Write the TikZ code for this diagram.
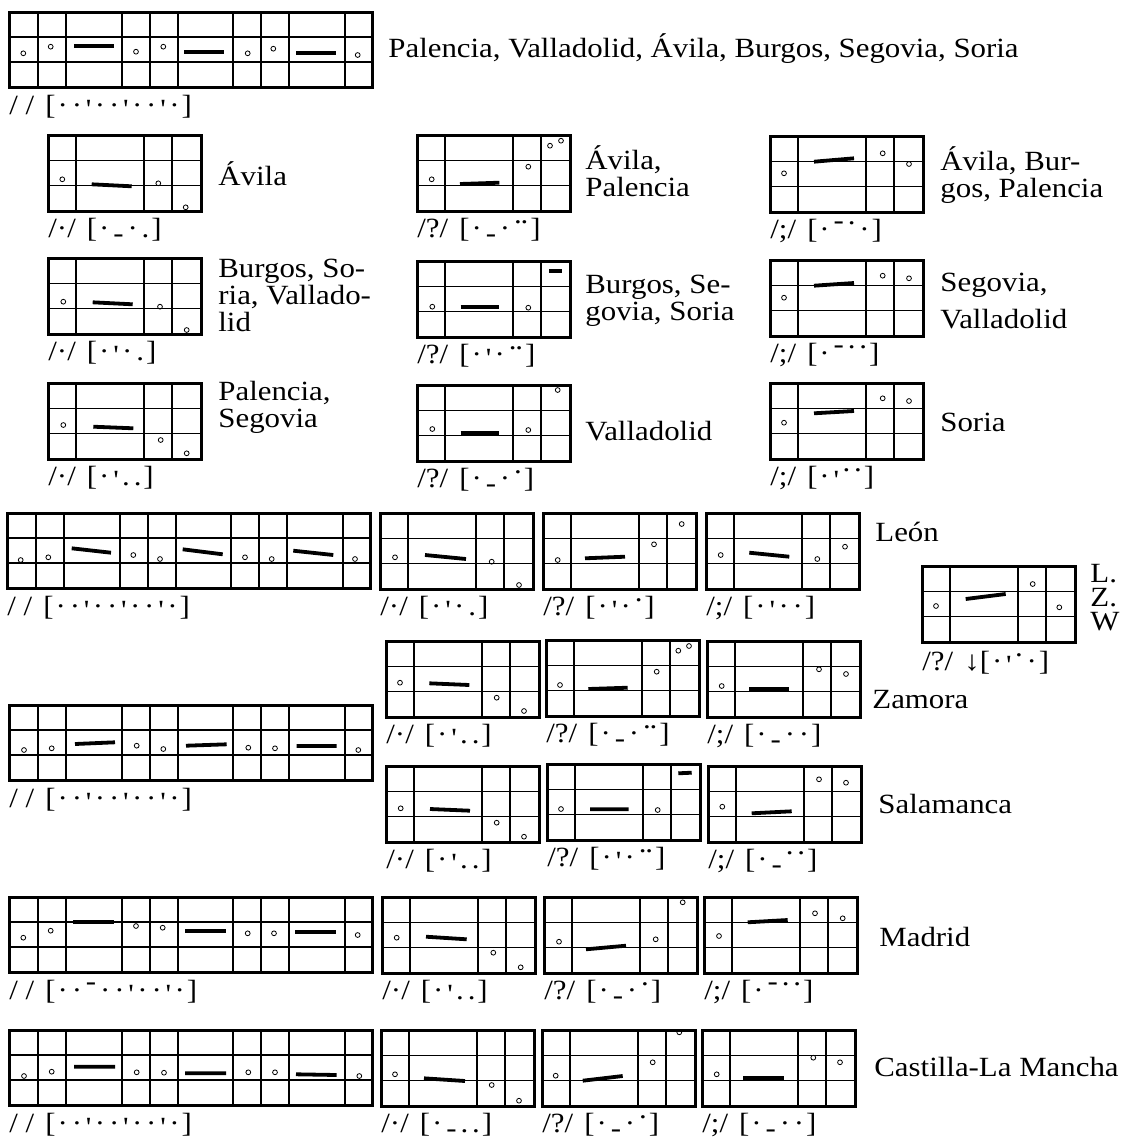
\documentclass[tikz,border=0pt]{standalone}
\usepackage{fontspec}
\setmainfont{Liberation Serif}[FakeStretch=1.11]

\tikzset{
    frame/.style={line width=1.5pt},
    thickrule/.style={line width=1.3pt},
    thinrule/.style={line width=.7pt},
    tone/.style={line width=.4pt},
    bar/.style={line width=1.9pt},
    lab/.style={anchor=base west, inner sep=0pt, align=left},
}

% pitch marks inside the brackets
\newcommand\tMid{\kern.07em\textperiodcentered\kern.07em}
\newcommand\tLow{\kern.07em.\kern.07em}
\newcommand\tHigh{\kern.07em\raisebox{.48em}{.}\kern.07em}
\newcommand\tHH{\kern.07em\raisebox{.48em}{.\kern-.04em.}\kern.07em}
\newcommand\tLowBar{\kern.07em\raisebox{-.2em}{-}\kern.07em}
\newcommand\tHighBar{\kern.07em\raisebox{.32em}{-}\kern.07em}
\newcommand\tStress{\kern.07em\raisebox{-.15em}{\textquotesingle}\kern.07em}
\newcommand\intlab[2]{#1\hspace{.4em}[#2]}

% frames of the two kinds of stave
\newcommand\smallframe{%
    \draw[thinrule] (0,25.3) -- (153,25.3) (0,50.7) -- (153,50.7) (124,0) -- (124,76);
    \draw[thickrule] (28,0) -- (28,76) (96,0) -- (96,76);
    \draw[frame] (0,0) rectangle (153,76);}
\newcommand\bigframe{%
    \draw[thinrule] (0,25) -- (363,25) (0,50) -- (363,50);
    \foreach \c in {29,141,252} \draw[thinrule] (\c,0) -- (\c,75);
    \foreach \c in {57,113,169,224,280,336} \draw[thickrule] (\c,0) -- (\c,75);
    \draw[frame] (0,0) rectangle (363,75);}
\newcommand\tones[1]{\foreach \x/\y in {#1} \draw[tone] (\x,\y) circle[radius=2.4];}

\begin{document}
\begin{tikzpicture}[x=0.5pt,y=-0.5pt,font=\fontsize{13.9}{13.5}\selectfont]
    \useasboundingbox (0,0) rectangle (1122,1142);

    % all provinces
    \begin{scope}[shift={(9,12)}]
        \bigframe
        \tones{14.3/41.3, 41.7/34.7, 127/39.7, 154.3/34.7, 238.7/41.3, 264.3/36.7, 348.7/43}
        \draw[bar] (65,34) -- (105.3,34) (175,39.7) -- (215,39.7) (287,40.7) -- (327,40.7);
        \node[lab] (pAll) at (0,102) {\intlab{/ /}{\tMid\tMid\tStress\tMid\tMid\tStress\tMid\tMid\tStress\tMid}};
    \end{scope}
    \node[lab] (nAll) at (388,57) {Palencia, Valladolid, Ávila, Burgos, Segovia, Soria};

    % column /./
    \begin{scope}[shift={(48,135)}]
        \smallframe
        \tones{14.3/44.3, 110.3/48.3, 137.7/72.3}
        \draw[bar] (43.7,49.3) -- (83.7,51.3);
        \node[lab] (pA1) at (0,102) {\intlab{/·/}{\tMid\tLowBar\tMid\tLow}};
    \end{scope}
    \node[lab] (nA1) at (218,185) {Ávila};
    \begin{scope}[shift={(48,258)}]
        \smallframe
        \tones{15.3/43.7, 112/48.7, 138.7/72}
        \draw[bar] (44.7,44.3) -- (84.7,46.3);
        \node[lab] (pA2) at (0,102) {\intlab{/·/}{\tMid\tStress\tMid\tLow}};
    \end{scope}
    \node[lab] (nA2) at (218,331.7) {Burgos, So-\\ria, Vallado-\\lid};
    \begin{scope}[shift={(48,383)}]
        \smallframe
        \tones{15.3/42, 112.7/57, 138.7/70.3}
        \draw[bar] (45.3,43.7) -- (85.3,45.3);
        \node[lab] (pA3) at (0,102) {\intlab{/·/}{\tMid\tStress\tLow\tLow}};
    \end{scope}
    \node[lab] (nA3) at (218,427) {Palencia,\\Segovia};

    % column /?/
    \begin{scope}[shift={(417,135)}]
        \smallframe
        \tones{14.7/44.3, 111.3/31.7, 133/10.7, 144/5.7}
        \draw[bar] (43,49) -- (82.3,47.7);
        \node[lab] (pB1) at (0,102) {\intlab{/?/}{\tMid\tLowBar\tMid\tHH}};
    \end{scope}
    \node[lab] (nB1) at (585,196) {Ávila,\\Palencia};
    \begin{scope}[shift={(417,261)}]
        \smallframe
        \tones{15.3/45.7, 111.3/46.7}
        \draw[bar] (43.7,45.7) -- (82.3,45.7) (132,9.7) -- (145.3,9.7);
        \node[lab] (pB2) at (0,102) {\intlab{/?/}{\tMid\tStress\tMid\tHH}};
    \end{scope}
    \node[lab] (nB2) at (585,320) {Burgos, Se-\\govia, Soria};
    \begin{scope}[shift={(417,385)}]
        \smallframe
        \tones{15.3/44, 111.3/45, 140.7/5}
        \draw[bar] (43.7,48.3) -- (81.7,48.3);
        \node[lab] (pB3) at (0,102) {\intlab{/?/}{\tMid\tLowBar\tMid\tHigh}};
    \end{scope}
    \node[lab] (nB3) at (585,440) {Valladolid};

    % column /;/
    \begin{scope}[shift={(770,136)}]
        \smallframe
        \tones{14/37.3, 112.7/17.3, 139/28}
        \draw[bar] (44,25.7) -- (84,22.3);
        \node[lab] (pC1) at (0,102) {\intlab{/;/}{\tMid\tHighBar\tHigh\tMid}};
    \end{scope}
    \node[lab] (nC1) at (940,197) {Ávila, Bur-\\gos, Palencia};
    \begin{scope}[shift={(770,260)}]
        \smallframe
        \tones{14/37.7, 112.7/15.7, 139/18.3}
        \draw[bar] (44,25.7) -- (84,23);
        \node[lab] (pC2) at (0,102) {\intlab{/;/}{\tMid\tHighBar\tHigh\tHigh}};
    \end{scope}
    \node[lab] (nC2) at (940,328.5) {Segovia,\\[5pt]Valladolid};
    \begin{scope}[shift={(770,383)}]
        \smallframe
        \tones{14/39.7, 112.7/15.3, 139/18}
        \draw[bar] (44,30.3) -- (84,28);
        \node[lab] (pC3) at (0,102) {\intlab{/;/}{\tMid\tStress\tHigh\tHigh}};
    \end{scope}
    \node[lab] (nC3) at (940,431.7) {Soria};

    % León
    \begin{scope}[shift={(7,513)}]
        \bigframe
        \tones{13.7/47, 41.3/44.3, 126.3/42, 153/46, 238/44.3, 264.7/46, 348/46}
        \draw[bar] (64.7,35.3) -- (104,39.7) (175.7,36.3) -- (215.7,41.3) (286.3,37.7) -- (326.3,42);
        \node[lab] (pLe) at (0,102) {\intlab{/ /}{\tMid\tMid\tStress\tMid\tMid\tStress\tMid\tMid\tStress\tMid}};
    \end{scope}
    \begin{scope}[shift={(380,513)}]
        \smallframe
        \tones{15/44.3, 111.7/48.7, 139/72}
        \draw[bar] (45,42) -- (86,46);
        \node[lab] (pLe1) at (0,102) {\intlab{/·/}{\tMid\tStress\tMid\tLow}};
    \end{scope}
    \begin{scope}[shift={(543,513)}]
        \smallframe
        \tones{14.7/47, 111/31.3, 138.7/11}
        \draw[bar] (42,45.3) -- (82,43.7);
        \node[lab] (pLe2) at (0,102) {\intlab{/?/}{\tMid\tStress\tMid\tHigh}};
    \end{scope}
    \begin{scope}[shift={(706,513)}]
        \smallframe
        \tones{14.7/42, 111.3/46, 139/33.7}
        \draw[bar] (43.3,39.7) -- (83.3,43.7);
        \node[lab] (pLe3) at (0,102) {\intlab{/;/}{\tMid\tStress\tMid\tMid}};
    \end{scope}
    \node[lab] (nLe) at (875,541) {León};

    % L. Z. W
    \begin{scope}[shift={(922,566)}]
        \smallframe
        \tones{14/40, 110.7/18, 137.3/41.3}
        \draw[bar] (43.7,33) -- (83.7,28);
        \node[lab] (pLZW) at (0,104) {/?/\hspace{.4em}↓[\tMid\tStress\tHigh\tMid]};
    \end{scope}
    \node[lab] (nLZW) at (1090,630) {L.\\[-1.5pt]Z.\\[-1.5pt]W};

    % Zamora and Salamanca
    \begin{scope}[shift={(9,705)}]
        \bigframe
        \tones{15/45, 42.7/43.3, 127.7/40.7, 154.3/44, 239.3/42.7, 266/43.3, 349.3/45}
        \draw[bar] (66,39) -- (106,37.3) (177,40.7) -- (217.7,39.3) (287.7,41) -- (327.7,41);
        \node[lab] (pZS) at (0,102) {\intlab{/ /}{\tMid\tMid\tStress\tMid\tMid\tStress\tMid\tMid\tStress\tMid}};
    \end{scope}
    \begin{scope}[shift={(386,641)}]
        \smallframe
        \tones{14/41.7, 110.7/56.7, 138/70}
        \draw[bar] (43.3,42.3) -- (83.3,44);
        \node[lab] (pZa1) at (0,102) {\intlab{/·/}{\tMid\tStress\tLow\tLow}};
    \end{scope}
    \begin{scope}[shift={(546,640)}]
        \smallframe
        \tones{14/45, 110.7/31.7, 132.3/10.7, 143/6}
        \draw[bar] (42.3,49) -- (81.7,47.7);
        \node[lab] (pZa2) at (0,102) {\intlab{/?/}{\tMid\tLowBar\tMid\tHH}};
    \end{scope}
    \begin{scope}[shift={(707,641)}]
        \smallframe
        \tones{14.7/45, 112/28.3, 139/33}
        \draw[bar] (42.3,48) -- (82.3,48);
        \node[lab] (pZa3) at (0,102) {\intlab{/;/}{\tMid\tLowBar\tMid\tMid}};
    \end{scope}
    \node[lab] (nZa) at (872,708) {Zamora};
    \begin{scope}[shift={(386,766)}]
        \smallframe
        \tones{14.7/42.3, 110.7/56.7, 138/70.7}
        \draw[bar] (44,43) -- (84,44.7);
        \node[lab] (pSa1) at (0,102) {\intlab{/·/}{\tMid\tStress\tLow\tLow}};
    \end{scope}
    \begin{scope}[shift={(547,764)}]
        \smallframe
        \tones{14/45, 110.7/46}
        \draw[bar] (43,45.3) -- (81.7,45.3) (131.3,9.3) -- (144.7,8.7);
        \node[lab] (pSa2) at (0,102) {\intlab{/?/}{\tMid\tStress\tMid\tHH}};
    \end{scope}
    \begin{scope}[shift={(708,766)}]
        \smallframe
        \tones{14.3/40.7, 111/13.3, 138/16.7}
        \draw[bar] (43.7,47.3) -- (83.7,45.3);
        \node[lab] (pSa3) at (0,102) {\intlab{/;/}{\tMid\tLowBar\tHigh\tHigh}};
    \end{scope}
    \node[lab] (nSa) at (878,813) {Salamanca};

    % Madrid
    \begin{scope}[shift={(9,897)}]
        \bigframe
        \tones{14.3/40.7, 41.7/33.7, 127/29, 153.7/30.7, 238.7/36.3, 265/36.3, 348.7/38}
        \draw[bar] (64.3,24.7) -- (105.3,24.7) (176,34) -- (217,34) (286,34.7) -- (327,34.7);
        \node[lab] (pMa) at (0,102) {\intlab{/ /}{\tMid\tMid\tHighBar\tMid\tMid\tStress\tMid\tMid\tStress\tMid}};
    \end{scope}
    \begin{scope}[shift={(382,897)}]
        \smallframe
        \tones{14.7/40.7, 111.3/55.7, 138.7/70.3}
        \draw[bar] (44,39.7) -- (84.7,42.3);
        \node[lab] (pMa1) at (0,102) {\intlab{/·/}{\tMid\tStress\tLow\tLow}};
    \end{scope}
    \begin{scope}[shift={(544,897)}]
        \smallframe
        \tones{15/44.7, 111.7/42.3, 138.7/5.3}
        \draw[bar] (42,52.3) -- (82,48.7);
        \node[lab] (pMa2) at (0,102) {\intlab{/?/}{\tMid\tLowBar\tMid\tHigh}};
    \end{scope}
    \begin{scope}[shift={(704,897)}]
        \smallframe
        \tones{15/39, 111/16.3, 138.7/21.3}
        \draw[bar] (43.7,25.3) -- (83.7,23);
        \node[lab] (pMa3) at (0,102) {\intlab{/;/}{\tMid\tHighBar\tHigh\tHigh}};
    \end{scope}
    \node[lab] (nMa) at (879,946) {Madrid};

    % Castilla-La Mancha
    \begin{scope}[shift={(9,1030)}]
        \bigframe
        \tones{15/46, 42.7/41.7, 127.7/42.3, 155/42.7, 239.3/42.3, 266/42.3, 350.3/46}
        \draw[bar] (65,36.7) -- (106,36.7) (176,43.3) -- (217,43.3) (287,44.3) -- (327.7,45);
        \node[lab] (pCM) at (0,102) {\intlab{/ /}{\tMid\tMid\tStress\tMid\tMid\tStress\tMid\tMid\tStress\tMid}};
    \end{scope}
    \begin{scope}[shift={(381,1030)}]
        \smallframe
        \tones{14/44.3, 110.7/55, 138/70.7}
        \draw[bar] (43,48.3) -- (84,51);
        \node[lab] (pCM1) at (0,102) {\intlab{/·/}{\tMid\tLowBar\tLow\tLow}};
    \end{scope}
    \begin{scope}[shift={(542,1030)}]
        \smallframe
        \tones{13.7/45.7, 110.7/32.3, 137.3/2.3}
        \draw[bar] (40.7,50.7) -- (80.7,46);
        \node[lab] (pCM2) at (0,102) {\intlab{/?/}{\tMid\tLowBar\tMid\tHigh}};
    \end{scope}
    \begin{scope}[shift={(702,1030)}]
        \smallframe
        \tones{14.7/44.3, 111.3/27.7, 138/32.3}
        \draw[bar] (41.3,47.7) -- (82,47.7);
        \node[lab] (pCM3) at (0,102) {\intlab{/;/}{\tMid\tLowBar\tMid\tMid}};
    \end{scope}
    \node[lab] (nCM) at (874,1076) {Castilla-La Mancha};
\end{tikzpicture}
\end{document}
